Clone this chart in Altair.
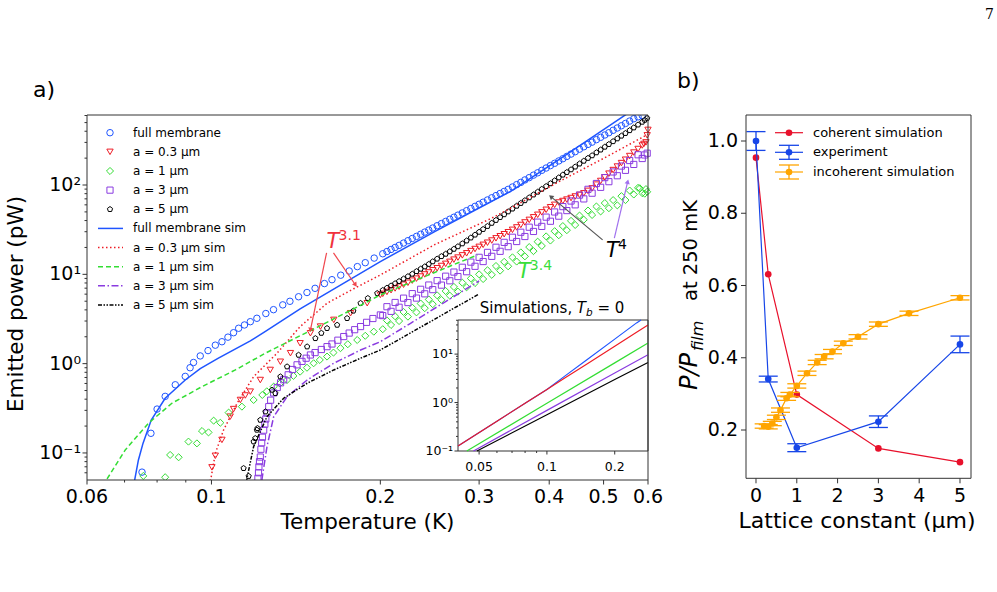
import altair as alt
import pandas as pd

FONT = "DejaVu Sans"
BLUE = "#1f55ff"
RED = "#ee1c25"
GREEN = "#33dd33"
PURPLE = "#8a3be0"
BLACK = "#000000"
B_RED = "#e8102b"
B_BLUE = "#1746e8"
B_ORANGE = "#ffa500"
PENTAGON = "M0,-1L0.951,-0.309L0.588,0.809L-0.588,0.809L-0.951,-0.309Z"

# ---------------- panel a: measured data ----------------
# temperatures at which the dense part of every measured curve was read (K)
dense_T = [0.202, 0.2055, 0.209, 0.2125, 0.216, 0.220, 0.224, 0.228, 0.232, 0.236, 0.240, 0.244, 0.248, 0.2525,
           0.257, 0.2615, 0.266, 0.2705, 0.275, 0.280, 0.285, 0.290, 0.295, 0.300, 0.305, 0.3105, 0.316, 0.3215,
           0.327, 0.3325, 0.338, 0.344, 0.350, 0.356, 0.362, 0.3685, 0.375, 0.3815, 0.388, 0.395, 0.402, 0.409,
           0.416, 0.423, 0.430, 0.4375, 0.445, 0.453, 0.461, 0.469, 0.477, 0.4855, 0.494, 0.5025, 0.511, 0.520,
           0.529, 0.538, 0.547, 0.5565, 0.566, 0.576, 0.586]

# full membrane
fm_low_T = [0.0752, 0.078, 0.080, 0.0827, 0.0862, 0.0898, 0.0916, 0.0929, 0.0955, 0.0986, 0.1016, 0.1044, 0.107,
            0.1095, 0.1118, 0.1145, 0.1173, 0.1205, 0.125, 0.129, 0.134, 0.138, 0.143, 0.148, 0.153, 0.159, 0.164,
            0.170, 0.176, 0.182, 0.188, 0.195]
fm_low_P = [0.061, 0.166, 0.31, 0.43, 0.58, 0.72, 0.90, 1.03, 1.22, 1.40, 1.61, 1.76, 1.98, 2.22, 2.49, 2.71, 2.95,
            3.22, 3.64, 4.02, 4.55, 4.99, 5.61, 6.26, 6.97, 7.88, 8.71, 9.78, 10.9, 12.2, 13.5, 15.2]
fm_dense_P = [17.0, 18.0, 19.0, 20.0, 21.1, 22.4, 23.8, 25.2, 26.6, 28.1, 29.7, 31.3, 33.0, 35.0, 37.0, 39.1, 41.4,
              43.6, 46.0, 48.7, 51.6, 54.6, 57.7, 60.9, 64.2, 68.0, 72.0, 76.1, 80.4, 84.8, 89.4, 95.0, 101, 107,
              114, 121, 129, 137, 146, 155, 165, 175, 186, 197, 209, 222, 236, 252, 268, 285, 302, 322, 342, 363,
              385, 410, 435, 461, 489, 520, 552, 580, 600]

# a = 0.3 um
r_low_T = [0.1002, 0.1016, 0.1044, 0.108, 0.1095, 0.1126, 0.1149, 0.1173, 0.1222, 0.1273, 0.1327, 0.1383, 0.1439,
           0.1501, 0.1564, 0.1652, 0.177, 0.1895, 0.2, 0.590, 0.595, 0.598, 0.600]
r_low_P = [0.069, 0.093, 0.14, 0.255, 0.31, 0.392, 0.44, 0.486, 0.656, 0.85, 1.05, 1.31, 1.69, 2.19, 2.60, 3.09,
           3.67, 4.75, 5.88, 288, 300, 360, 414]
r_dense_P = [6.05, 6.35, 6.64, 6.95, 7.27, 7.65, 8.04, 8.5, 8.95, 9.45, 9.97, 10.5, 11.1, 11.7, 12.4, 13.1, 13.8,
             14.6, 15.4, 16.3, 17.2, 18.2, 19.2, 20.3, 21.4, 22.6, 23.9, 25.3, 26.7, 28.1, 29.6, 31.5, 33.5, 35.7,
             38.1, 40.7, 43.5, 46.4, 49.4, 52.8, 56.4, 60.0, 63.7, 66.2, 68.7, 71.5, 74.4, 77.5, 80.7, 86.0, 91.6,
             101, 111, 122, 134, 147, 161, 176, 192, 211, 231, 253, 277]

# a = 1 um (dense part read alternately at the lower and upper side of the thick band)
g_low_T = [0.0756, 0.0827, 0.0844, 0.0874, 0.091, 0.0942, 0.0962, 0.0988, 0.1009, 0.1037, 0.1073, 0.1133, 0.1189,
           0.1232, 0.1255, 0.1291, 0.1325, 0.1364, 0.140, 0.1439, 0.148, 0.1521, 0.156, 0.1607, 0.165, 0.1698,
           0.175, 0.1819, 0.188, 0.1947, 0.580, 0.592, 0.595, 0.598]
g_low_P = [0.0553, 0.0535, 0.095, 0.0895, 0.134, 0.128, 0.176, 0.17, 0.23, 0.218, 0.283, 0.33, 0.392, 0.446, 0.49,
           0.553, 0.60, 0.656, 0.73, 0.813, 0.90, 1.01, 1.10, 1.2, 1.33, 1.49, 1.65, 1.84, 2.05, 2.28, 92, 80, 90, 84]
g_dense_P = [2.43, 3.05, 2.71, 3.39, 3.00, 3.79, 3.36, 4.23, 3.75, 4.71, 4.18, 5.23, 4.63, 5.82, 5.18, 6.50, 5.77,
             7.23, 6.40, 8.06, 7.16, 9.0, 7.99, 10.0, 8.86, 11.1, 9.88, 12.4, 11.0, 13.8, 12.3, 15.5, 13.9, 17.6,
             15.9, 20.2, 18.2, 23.2, 20.8, 26.6, 23.9, 30.4, 27.4, 34.7, 31.2, 39.7, 35.7, 45.5, 40.9, 51.8, 46.2,
             57.5, 50.6, 62.8, 55.0, 67.8, 59.2, 75.1, 67.8, 86.7, 78.3, 93, 81]

# a = 3 um (dense part read alternately at the lower and upper side of the thick band)
p_low_T = [0.1210, 0.1213, 0.1215, 0.1218, 0.1222, 0.1225, 0.1229, 0.1233, 0.1239, 0.1245, 0.125, 0.1256, 0.1265,
           0.1275, 0.1291, 0.131, 0.1328, 0.1345, 0.137, 0.1395, 0.1421, 0.145, 0.1475, 0.1501, 0.153, 0.157,
           0.1607, 0.164, 0.168, 0.1721, 0.176, 0.18, 0.1844, 0.189, 0.194, 0.2, 0.592, 0.598]
p_low_P = [0.052, 0.06, 0.07, 0.08, 0.09, 0.11, 0.13, 0.15, 0.18, 0.21, 0.24, 0.28, 0.33, 0.39, 0.47, 0.54, 0.61,
           0.66, 0.75, 0.86, 0.97, 1.06, 1.15, 1.25, 1.33, 1.44, 1.55, 1.66, 1.83, 2.01, 2.2, 2.4, 2.6, 2.9, 3.2,
           3.51, 217, 227]
p_dense_P = [3.45, 4.34, 3.85, 4.84, 4.28, 5.41, 4.83, 6.08, 5.42, 6.80, 6.05, 7.59, 6.74, 8.50, 7.57, 9.53, 8.47,
             10.6, 9.44, 12.0, 10.7, 13.7, 12.3, 15.5, 13.9, 17.6, 15.9, 20.1, 18.1, 22.8, 20.4, 26.0, 23.3, 29.6,
             26.5, 33.7, 30.2, 38.4, 34.4, 43.7, 39.3, 49.9, 44.8, 57.3, 51.7, 66.2, 60.0, 77.1, 69.9, 89.5, 81.0,
             104, 94.2, 121, 109, 140, 127, 163, 146, 188, 170, 218, 198]

# a = 5 um
k_low_T = [0.1141, 0.1165, 0.1189, 0.1197, 0.1205, 0.1208, 0.1222, 0.1248, 0.1282, 0.13, 0.1327, 0.1364, 0.143,
           0.1481, 0.1532, 0.157, 0.1607, 0.1675, 0.1745, 0.179, 0.1844, 0.19, 0.1975, 0.592, 0.598]
k_low_P = [0.0674, 0.055, 0.134, 0.146, 0.181, 0.189, 0.234, 0.29, 0.508, 0.466, 0.715, 0.926, 1.25, 1.55, 1.92,
           2.2, 2.49, 2.71, 3.22, 3.9, 4.75, 5.4, 6.14, 534, 560]
k_dense_P = [6.64, 7.04, 7.46, 7.9, 8.36, 8.9, 9.48, 10.1, 10.8, 11.5, 12.2, 13.0, 13.9, 14.9, 15.9, 16.9, 18.0,
             19.2, 20.5, 22.1, 23.8, 25.7, 27.7, 29.8, 32.0, 34.6, 37.5, 40.4, 43.5, 46.8, 50.4, 54.2, 58.3, 62.6,
             67.2, 72.4, 77.9, 83.7, 90.0, 96.8, 104, 112, 121, 130, 139, 149, 160, 173, 186, 200, 214, 231, 248,
             267, 286, 308, 331, 355, 380, 409, 439, 473, 508]

# simulations (panel a)
fms_T = [0.0722, 0.0741, 0.0755, 0.0781, 0.0827, 0.0898, 0.0955, 0.1029, 0.1173, 0.1248, 0.1439, 0.2, 0.25, 0.3415,
         0.42, 0.5437, 0.6]
fms_P = [0.035, 0.0835, 0.128, 0.234, 0.41, 0.656, 0.88, 1.15, 1.8, 2.3, 4.1, 13.9, 30, 85, 200, 594, 900]
rs_T = [0.0985, 0.0998, 0.1016, 0.1051, 0.1111, 0.1189, 0.1309, 0.1439, 0.1607, 0.1793, 0.2, 0.25, 0.3146, 0.3415,
        0.414, 0.501, 0.6]
rs_P = [0.04, 0.052, 0.099, 0.181, 0.36, 0.715, 1.31, 2.6, 4.75, 6.9, 9.84, 21.5, 42, 55, 107, 200, 370]
gs_T = [0.0635, 0.065, 0.0702, 0.0772, 0.085, 0.0962, 0.1103, 0.1248, 0.1542, 0.1844, 0.2, 0.25, 0.298]
gs_P = [0.035, 0.05, 0.108, 0.215, 0.36, 0.553, 0.85, 1.31, 2.55, 4.5, 5.88, 10.5, 16.5]
ps_T = [0.1225, 0.1231, 0.1256, 0.1291, 0.1364, 0.1481, 0.1652, 0.1844, 0.2, 0.2264, 0.3]
ps_P = [0.035, 0.052, 0.118, 0.255, 0.427, 0.656, 1.01, 1.42, 1.76, 2.83, 8.44]
ks_T = [0.1148, 0.1157, 0.1189, 0.1256, 0.1345, 0.1481, 0.1652, 0.1844, 0.2, 0.3]
ks_P = [0.035, 0.052, 0.118, 0.255, 0.41, 0.603, 0.85, 1.15, 1.42, 6.03]

# inset (T_b = 0)
ib_T = [0.0403, 0.06, 0.08, 0.1, 0.12, 0.15, 0.2, 0.25, 0.2617]
ib_P = [0.127, 0.413, 0.967, 1.87, 3.51, 7.57, 20.4, 44.1, 50.6]
ir_T = [0.0403, 0.06, 0.08, 0.1, 0.12, 0.15, 0.2, 0.25, 0.281]
ir_P = [0.127, 0.413, 0.967, 1.87, 3.21, 6.21, 14.6, 28.2, 39.8]
ig_T = [0.0441, 0.1, 0.2, 0.281]
ig_P = [0.1, 0.966, 6.59, 17.0]
ip_T = [0.0472, 0.1, 0.2, 0.281]
ip_P = [0.1, 0.689, 4.09, 9.72]
ik_T = [0.0489, 0.1, 0.2, 0.281]
ik_P = [0.1, 0.561, 2.98, 6.73]

# ticks and tick labels
a_x_ticks = [0.06, 0.1, 0.2, 0.3, 0.4, 0.5, 0.6]
a_x_labels = ["0.06", "0.1", "0.2", "0.3", "0.4", "0.5", "0.6"]
a_x_minor = [0.07, 0.08, 0.09]
a_y_ticks = [0.1, 1, 10, 100]
a_y_labels = ["10⁻¹", "10⁰", "10¹", "10²"]
a_y_minor = [0.06, 0.07, 0.08, 0.09, 0.2, 0.3, 0.4, 0.5, 0.6, 0.7, 0.8, 0.9, 2, 3, 4, 5, 6, 7, 8, 9,
             20, 30, 40, 50, 60, 70, 80, 90, 200, 300, 400, 500, 600]
i_x_ticks = [0.05, 0.1, 0.2]
i_x_labels = ["0.05", "0.1", "0.2"]
i_x_minor = [0.06, 0.07, 0.08, 0.09]
i_y_ticks = [0.1, 1, 10]
i_y_labels = ["10⁻¹", "10⁰", "10¹"]
i_y_minor = [0.2, 0.3, 0.4, 0.5, 0.6, 0.7, 0.8, 0.9, 2, 3, 4, 5, 6, 7, 8, 9, 20, 30, 40, 50]

legend_a_labels = ["full membrane", "a = 0.3 μm", "a = 1 μm", "a = 3 μm", "a = 5 μm",
                   "full membrane sim", "a = 0.3 μm sim", "a = 1 μm sim", "a = 3 μm sim", "a = 5 μm sim"]

# ---------------- panel b data ----------------
coh_x = [0, 0.3, 1, 3, 5]
coh_y = [0.954, 0.631, 0.298, 0.149, 0.111]
exp_x = [0, 0.3, 1, 3, 5]
exp_y = [1.0, 0.341, 0.151, 0.223, 0.437]
exp_err = [0.026, 0.008, 0.011, 0.016, 0.023]
inc_x = [0.2, 0.3, 0.4, 0.5, 0.6, 0.75, 0.83, 1.0, 1.25, 1.5, 1.67, 1.875, 2.14, 2.5, 3.0, 3.75, 5.0]
inc_y = [0.211, 0.209, 0.218, 0.235, 0.255, 0.288, 0.298, 0.322, 0.357, 0.387, 0.403, 0.417, 0.44, 0.458, 0.493,
         0.523, 0.566]
inc_err = [0.006, 0.006, 0.006, 0.006, 0.006, 0.006, 0.006, 0.006, 0.006, 0.006, 0.006, 0.006, 0.006, 0.006,
           0.006, 0.006, 0.006]
b_x_ticks = [0, 1, 2, 3, 4, 5]
b_x_labels = ["0", "1", "2", "3", "4", "5"]
b_y_ticks = [0.2, 0.4, 0.6, 0.8, 1.0]
b_y_labels = ["0.2", "0.4", "0.6", "0.8", "1.0"]
legend_b_labels = ["coherent simulation", "experiment", "incoherent simulation"]

# ---------------- layout (plot-area pixels) ----------------
W, H = 884, 365
A_W = 561
B_X0, B_X1, B_H = 659, 884, 363.3
I_X0, I_X1, I_Y0, I_Y1 = 371, 561, 205, 336
ONE = pd.DataFrame({"k": [0]})
TICK = "#333333"


def txt(text, x, y, size, color="black", style="normal", align="left", baseline="alphabetic", font=FONT, **kw):
    return alt.Chart(ONE).mark_text(text=text, font=font, fontSize=size, color=color, fontStyle=style,
                                    align=align, baseline=baseline, **kw).encode(x=alt.value(x), y=alt.value(y))


def ticks_x(vals, scale, y0, length):
    return alt.Chart(pd.DataFrame({"v": vals})).mark_rule(color=TICK, strokeWidth=1).encode(
        x=alt.X("v:Q", scale=scale, axis=None), y=alt.value(y0), y2=alt.value(y0 + length))


def ticks_y(vals, scale, x0, length):
    return alt.Chart(pd.DataFrame({"v": vals})).mark_rule(color=TICK, strokeWidth=1).encode(
        y=alt.Y("v:Q", scale=scale, axis=None), x=alt.value(x0), x2=alt.value(x0 - length))


def labels_x(vals, labs, scale, y, size):
    return alt.Chart(pd.DataFrame({"v": vals, "t": labs})).mark_text(
        font=FONT, fontSize=size, align="center", baseline="alphabetic", color="black").encode(
        x=alt.X("v:Q", scale=scale, axis=None), y=alt.value(y), text="t:N")


def labels_y(vals, labs, scale, x, size):
    return alt.Chart(pd.DataFrame({"v": vals, "t": labs})).mark_text(
        font=FONT, fontSize=size, align="right", baseline="middle", color="black").encode(
        y=alt.Y("v:Q", scale=scale, axis=None), x=alt.value(x), text="t:N")


# ---------------- panel a ----------------
xa = alt.Scale(type="log", domain=[0.06, 0.6], range=[0, A_W], nice=False)
ya = alt.Scale(type="log", domain=[0.0498, 608], range=[H, 0], nice=False)


def a_pts(T, P, shape, color, size):
    df = pd.DataFrame({"T": T, "P": P})
    return alt.Chart(df).mark_point(shape=shape, filled=False, color=color, size=size, strokeWidth=1,
                                    opacity=1, clip=True).encode(
        x=alt.X("T:Q", scale=xa, axis=None), y=alt.Y("P:Q", scale=ya, axis=None))


def a_line(T, P, color, dash=None):
    df = pd.DataFrame({"T": T, "P": P})
    kw = dict(color=color, strokeWidth=1.5, clip=True)
    if dash:
        kw["strokeDash"] = dash
    return alt.Chart(df).mark_line(**kw).encode(
        x=alt.X("T:Q", scale=xa, axis=None), y=alt.Y("P:Q", scale=ya, axis=None))


def a_text(T, P, text, size, color, style="normal", dx=0, dy=0):
    df = pd.DataFrame({"T": [T], "P": [P], "t": [text]})
    return alt.Chart(df).mark_text(font=FONT, fontSize=size, color=color, fontStyle=style, align="left",
                                   baseline="alphabetic", dx=dx, dy=dy).encode(
        x=alt.X("T:Q", scale=xa, axis=None), y=alt.Y("P:Q", scale=ya, axis=None), text="t:N")


def a_arrow(T0, P0, T1, P1, color, ang):
    df = pd.DataFrame({"T0": [T0], "P0": [P0], "T1": [T1], "P1": [P1]})
    line = alt.Chart(df).mark_rule(color=color, strokeWidth=1.2).encode(
        x=alt.X("T0:Q", scale=xa, axis=None), y=alt.Y("P0:Q", scale=ya, axis=None),
        x2="T1:Q", y2="P1:Q")
    head = alt.Chart(df).mark_point(shape="triangle-up", filled=True, size=28, color=color, opacity=1,
                                    angle=ang).encode(
        x=alt.X("T1:Q", scale=xa, axis=None), y=alt.Y("P1:Q", scale=ya, axis=None))
    return [line, head]


panel_a = alt.layer(
    a_pts(fm_low_T, fm_low_P, "circle", BLUE, 42),
    a_pts(dense_T, fm_dense_P, "circle", BLUE, 42),
    a_pts(r_low_T, r_low_P, "triangle-down", RED, 40),
    a_pts(dense_T, r_dense_P, "triangle-down", RED, 40),
    a_pts(g_low_T, g_low_P, "diamond", GREEN, 50),
    a_pts(dense_T, g_dense_P, "diamond", GREEN, 50),
    a_pts(p_low_T, p_low_P, "square", PURPLE, 38),
    a_pts(dense_T, p_dense_P, "square", PURPLE, 38),
    a_pts(k_low_T, k_low_P, PENTAGON, BLACK, 30),
    a_pts(dense_T, k_dense_P, PENTAGON, BLACK, 30),
    a_line(fms_T, fms_P, BLUE),
    a_line(rs_T, rs_P, RED, [1.5, 2.5]),
    a_line(gs_T, gs_P, GREEN, [5, 3]),
    a_line(ps_T, ps_P, PURPLE, [7, 2.5, 1.5, 2.5]),
    a_line(ks_T, ks_P, BLACK, [4, 1.5, 1.5, 1.5, 1.5, 1.5]),
    ticks_x(a_x_ticks, xa, H, 4.5),
    ticks_x(a_x_minor, xa, H, 2.5),
    ticks_y(a_y_ticks, ya, 0, 4.5),
    ticks_y(a_y_minor, ya, 0, 2.5),
    labels_x(a_x_ticks, a_x_labels, xa, 388, 19),
    labels_y(a_y_ticks, a_y_labels, ya, -6, 19),
    *a_arrow(0.1604, 17.4, 0.1501, 2.38, "#f0464d", 191.7),
    *a_arrow(0.165, 17.4, 0.1806, 7.6, "#f0464d", 145.5),
    *a_arrow(0.498, 24.3, 0.4027, 74.1, "#555555", 309.9),
    *a_arrow(0.5226, 25.4, 0.552, 109, "#a070ee", 13.3),
    a_text(0.1604, 19.8, "T", 21, "#f0323c", "italic"),
    a_text(0.1604, 19.8, "3.1", 14, "#f0323c", dx=12, dy=-8),
    a_text(0.3517, 9.12, "T", 21, "#3ade3a", "italic"),
    a_text(0.3517, 9.12, "3.4", 14, "#3ade3a", dx=12, dy=-8),
    a_text(0.5048, 15.7, "T", 21, "black", "italic"),
    a_text(0.5048, 15.7, "4", 14, "black", dx=12, dy=-8),
    a_text(0.3007, 3.70, "Simulations,", 15, "black"),
    a_text(0.3007, 3.70, "T", 15, "black", "italic", dx=97),
    a_text(0.3007, 3.70, "b", 10.5, "black", "italic", dx=106.2, dy=3),
    a_text(0.3007, 3.70, "= 0", 15, "black", dx=117.7),
)

# ---------------- inset ----------------
xi = alt.Scale(type="log", domain=[0.0403, 0.281], range=[I_X0, I_X1], nice=False)
yi = alt.Scale(type="log", domain=[0.1, 50.6], range=[I_Y1, I_Y0], nice=False)


def i_line(T, P, color):
    df = pd.DataFrame({"T": T, "P": P})
    return alt.Chart(df).mark_line(color=color, strokeWidth=1.2).encode(
        x=alt.X("T:Q", scale=xi, axis=None), y=alt.Y("P:Q", scale=yi, axis=None))


inset_bg = alt.Chart(ONE).mark_rect(fill="white", stroke=TICK, strokeWidth=1).encode(
    x=alt.value(I_X0), x2=alt.value(I_X1), y=alt.value(I_Y0), y2=alt.value(I_Y1))

inset = alt.layer(
    inset_bg,
    i_line(ib_T, ib_P, BLUE),
    i_line(ir_T, ir_P, RED),
    i_line(ig_T, ig_P, GREEN),
    i_line(ip_T, ip_P, PURPLE),
    i_line(ik_T, ik_P, BLACK),
    ticks_x(i_x_ticks, xi, I_Y1, 3.5),
    ticks_x(i_x_minor, xi, I_Y1, 2),
    ticks_y(i_y_ticks, yi, I_X0, 3.5),
    ticks_y(i_y_minor, yi, I_X0, 2),
    labels_x(i_x_ticks, i_x_labels, xi, 356, 12.5),
    labels_y(i_y_ticks, i_y_labels, yi, I_X0 - 5, 12.5),
)

# ---------------- panel b ----------------
xb = alt.Scale(domain=[-0.245, 5.27], range=[B_X0, B_X1], nice=False, zero=False)
yb = alt.Scale(domain=[0.0663, 1.072], range=[B_H, 0], nice=False, zero=False)

coh = pd.DataFrame({"x": coh_x, "y": coh_y})
exp = pd.DataFrame({"x": exp_x, "y": exp_y, "e": exp_err})
exp["lo"] = exp["y"] - exp["e"]
exp["hi"] = exp["y"] + exp["e"]
inc = pd.DataFrame({"x": inc_x, "y": inc_y, "e": inc_err})
inc["lo"] = inc["y"] - inc["e"]
inc["hi"] = inc["y"] + inc["e"]


def b_series(df, color, err=False):
    base = alt.Chart(df)
    X = alt.X("x:Q", scale=xb, axis=None)
    out = [base.mark_line(color=color, strokeWidth=1.2).encode(x=X, y=alt.Y("y:Q", scale=yb, axis=None))]
    if err:
        out.append(base.mark_rule(color=color, strokeWidth=1.3).encode(
            x=X, y=alt.Y("lo:Q", scale=yb, axis=None), y2="hi:Q"))
        for f in ["lo", "hi"]:
            out.append(base.mark_tick(orient="horizontal", size=19, thickness=1.3, color=color, opacity=1).encode(
                x=X, y=alt.Y(f + ":Q", scale=yb, axis=None)))
    out.append(base.mark_circle(size=44, color=color, opacity=1).encode(
        x=X, y=alt.Y("y:Q", scale=yb, axis=None)))
    return out


panel_b = alt.layer(
    *b_series(coh, B_RED),
    *b_series(exp, B_BLUE, True),
    *b_series(inc, B_ORANGE, True),
    ticks_x(b_x_ticks, xb, B_H, 5),
    ticks_y(b_y_ticks, yb, B_X0, 5),
    labels_x(b_x_ticks, b_x_labels, xb, 387, 19),
    labels_y(b_y_ticks, b_y_labels, yb, B_X0 - 8, 19),
)

# ---------------- legends ----------------
leg_y = alt.Y("label:N", scale=alt.Scale(type="point", domain=legend_a_labels, range=[17.7, 190], padding=0),
              axis=None)
leg_a = [alt.Chart(pd.DataFrame({"label": legend_a_labels})).mark_text(
    font=FONT, fontSize=12, align="left", baseline="middle", color="black").encode(
    x=alt.value(46), y=leg_y, text="label:N")]
for lab, shape, color, size in zip(legend_a_labels[:5], ["circle", "triangle-down", "diamond", "square", PENTAGON],
                                   [BLUE, RED, GREEN, PURPLE, BLACK], [42, 40, 50, 38, 30]):
    leg_a.append(alt.Chart(pd.DataFrame({"label": [lab]})).mark_point(
        shape=shape, filled=False, color=color, size=size, strokeWidth=1, opacity=1).encode(
        x=alt.value(23), y=leg_y))
for lab, color, dash in zip(legend_a_labels[5:], [BLUE, RED, GREEN, PURPLE, BLACK],
                            [None, [1.5, 2.5], [5, 3], [7, 2.5, 1.5, 2.5], [4, 1.5, 1.5, 1.5, 1.5, 1.5]]):
    kw = dict(color=color, strokeWidth=1.5)
    if dash:
        kw["strokeDash"] = dash
    leg_a.append(alt.Chart(pd.DataFrame({"label": [lab]})).mark_rule(**kw).encode(
        x=alt.value(11), x2=alt.value(36), y=leg_y))
legend_a = alt.layer(*leg_a)

leg_b = []
for i, (lab, color) in enumerate(zip(legend_b_labels, [B_RED, B_BLUE, B_ORANGE])):
    yy = [17.7, 37.3, 57.0][i]
    leg_b.append(alt.Chart(ONE).mark_rule(color=color, strokeWidth=1.2).encode(
        x=alt.value(688), x2=alt.value(716), y=alt.value(yy)))
    if i > 0:
        leg_b.append(alt.Chart(ONE).mark_rule(color=color, strokeWidth=1.3).encode(
            x=alt.value(702), y=alt.value(yy - 7), y2=alt.value(yy + 7)))
        for d in (-7, 7):
            leg_b.append(alt.Chart(ONE).mark_rule(color=color, strokeWidth=1.3).encode(
                x=alt.value(692), x2=alt.value(712), y=alt.value(yy + d)))
    leg_b.append(alt.Chart(ONE).mark_circle(size=44, color=color, opacity=1).encode(
        x=alt.value(702), y=alt.value(yy)))
    leg_b.append(txt(lab, 726, yy, 13, baseline="middle"))
legend_b = alt.layer(*leg_b)

# ---------------- frames and free text ----------------
frames = alt.layer(
    alt.Chart(ONE).mark_rect(fillOpacity=0, stroke=TICK, strokeWidth=1).encode(
        x=alt.value(0), x2=alt.value(A_W), y=alt.value(0), y2=alt.value(H)),
    alt.Chart(ONE).mark_rect(fillOpacity=0, stroke=TICK, strokeWidth=1).encode(
        x=alt.value(B_X0), x2=alt.value(B_X1), y=alt.value(0), y2=alt.value(B_H)),
)

free_text = alt.layer(
    txt("a)", -54, -18, 22),
    txt("b)", 590, -27, 22),
    txt("7", 898, -96, 14, font="DejaVu Serif"),
    txt("Temperature (K)", 280.5, 414, 21.5, align="center"),
    txt("Emitted power (pW)", -70, 189, 21.5, align="center", baseline="middle", angle=270),
    txt("Lattice constant (μm)", 770, 413, 22, align="center"),
    txt("P/P", 610, 275, 24, style="italic", angle=270),
    txt("film", 616, 236, 16, style="italic", angle=270),
    txt("at 250 mK", 610, 186, 19.5, angle=270),
)

chart = alt.layer(panel_a, inset, panel_b, legend_a, legend_b, frames, free_text).resolve_scale(
    x="independent", y="independent").properties(
    width=W, height=H, autosize=alt.AutoSizeParams(type="none"),
    padding={"left": 87, "top": 115, "right": 26, "bottom": 112}).configure_view(strokeWidth=0)

chart.save("out.html", embed_options={"renderer": "svg", "actions": False})
